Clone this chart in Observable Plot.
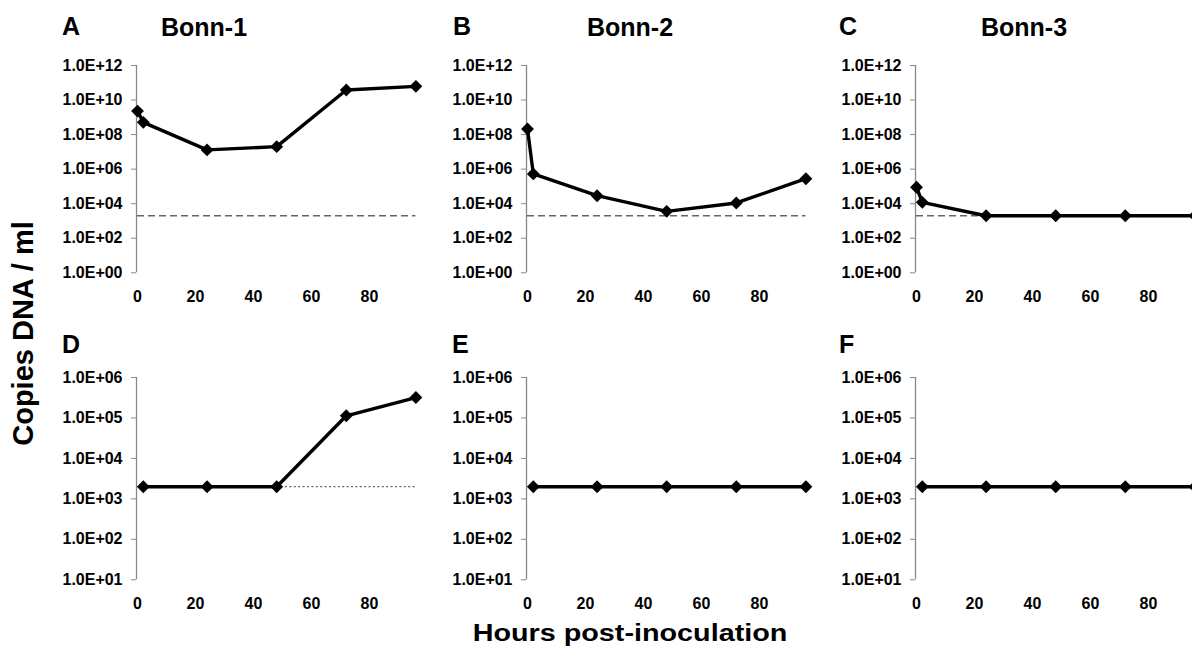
<!DOCTYPE html>
<html><head><meta charset="utf-8">
<script src="https://cdn.jsdelivr.net/npm/d3@7"></script>
<script src="https://cdn.jsdelivr.net/npm/@observablehq/plot@0.6"></script>
<style>
html,body{margin:0;padding:0;background:#fff;overflow:hidden;}
#fig{position:relative;width:1192px;height:654px;overflow:hidden;font-family:"Liberation Sans",Arial,sans-serif;font-weight:bold;color:#000;background:#fff;}
.lbl{position:absolute;line-height:1;white-space:nowrap;}
.panel{position:absolute;}
.panel svg{max-width:none !important;}
</style></head><body><div id="fig"></div>
<script>
// ---- data ----
const hoursTop = [0, 2, 24, 48, 72, 96];
const bonn1 = [2.3e9, 5.1e8, 1.3e7, 2.0e7, 3.8e10, 6.2e10];
const bonn2 = [2.1e8, 5.3e5, 2.9e4, 3.6e3, 1.1e4, 2.8e5];
const bonn3 = [9.0e4, 1.2e4, 2.0e3, 2.0e3, 2.0e3, 2.0e3];
const hoursBottom = [2, 24, 48, 72, 96];
const panelD = [2.0e3, 2.0e3, 2.0e3, 1.13e5, 3.2e5];
const panelE = [2.0e3, 2.0e3, 2.0e3, 2.0e3, 2.0e3];
const panelF = [2.0e3, 2.0e3, 2.0e3, 2.0e3, 2.0e3];
const detectionLimit = 2000;
const panelLetters = ["A", "B", "C", "D", "E", "F"];
const panelTitles = ["Bonn-1", "Bonn-2", "Bonn-3", "", "", ""];
const xTicks = [0, 20, 40, 60, 80];
const topYTicks = [1e0, 1e2, 1e4, 1e6, 1e8, 1e10, 1e12];
const topYTickLabels = ["1.0E+00", "1.0E+02", "1.0E+04", "1.0E+06", "1.0E+08", "1.0E+10", "1.0E+12"];
const bottomYTicks = [1e1, 1e2, 1e3, 1e4, 1e5, 1e6];
const bottomYTickLabels = ["1.0E+01", "1.0E+02", "1.0E+03", "1.0E+04", "1.0E+05", "1.0E+06"];
const yAxisTitle = "Copies DNA / ml";
const xAxisTitle = "Hours post-inoculation";

// ---- layout ----
const fig = document.getElementById("fig");
const colX0 = [137, 527, 916];
const pxPerHour = 2.9;
const xMax = 96;
const ML = 100, MR = 12, MT = 20, MB = 40;
const rows = [
  {y0: 65, plotH: 207.3, domain: [1, 1e12], ticks: topYTicks, labels: topYTickLabels, hours: hoursTop,
   series: [bonn1, bonn2, bonn3], lod: [[0, 96, "7,4", 1.5], [0, 96, "7,4", 1.5], [0, 96, "7,4", 1.5]]},
  {y0: 376.7, plotH: 202.3, domain: [10, 1e6], ticks: bottomYTicks, labels: bottomYTickLabels, hours: hoursBottom,
   series: [panelD, panelE, panelF], lod: [[48, 96, "2,2.4", 1.2], null, null]}
];
const letterX = [[62, 453, 839], [62, 452, 839]];
const letterCY = [26.5, 344];
const titleX = [161, 587, 981];

rows.forEach((row, r) => {
  row.series.forEach((vals, c) => {
    const data = row.hours.map((h, i) => ({h, v: vals[i]}));
    const fmt = d => row.labels[row.ticks.indexOf(d)] ?? "";
    const marks = [
      Plot.ruleX([{x: 0, y1: row.domain[0], y2: row.domain[1]}], {x: "x", y1: "y1", y2: "y2", stroke: "#888", strokeWidth: 1.3, dx: -1}),
      Plot.axisY({ticks: row.ticks, tickFormat: fmt, tickSize: 5, tickPadding: 9, stroke: "#888", fill: "#000", label: null, dx: -1}),
      Plot.axisX({ticks: xTicks, tickSize: 0, tickPadding: 18, fill: "#000", label: null})
    ];
    const lod = row.lod[c];
    if (lod) {
      marks.push(Plot.ruleY([{y: detectionLimit, x1: lod[0], x2: lod[1]}], {y: "y", x1: "x1", x2: "x2", stroke: "#666", strokeWidth: lod[3], strokeDasharray: lod[2]}));
    }
    marks.push(Plot.line(data, {x: "h", y: "v", stroke: "#000", strokeWidth: 3.4}));
    marks.push(Plot.dot(data, {x: "h", y: "v", symbol: "diamond2", r: 5.8, fill: "#000"}));
    const plotW = xMax * pxPerHour;
    const W = ML + plotW + MR;
    const H = MT + row.plotH + MB;
    const chart = Plot.plot({
      width: W,
      height: H,
      marginLeft: ML, marginRight: MR, marginTop: MT, marginBottom: MB,
      x: {domain: [0, xMax], label: null},
      y: {type: "log", domain: row.domain, label: null},
      style: {fontFamily: '"Liberation Sans", Arial, sans-serif', fontSize: "16px", fontWeight: "bold", background: "transparent", overflow: "visible", color: "#000", maxWidth: "none"},
      marks
    });
    const wrap = document.createElement("div");
    wrap.className = "panel";
    wrap.style.left = (colX0[c] - ML) + "px";
    wrap.style.top = (row.y0 - MT) + "px";
    wrap.style.width = W + "px";
    wrap.style.height = H + "px";
    wrap.appendChild(chart);
    fig.appendChild(wrap);

    const idx = r * 3 + c;
    const L = document.createElement("div");
    L.className = "lbl";
    L.style.fontSize = "25px";
    L.style.left = letterX[r][c] + "px";
    L.style.top = (letterCY[r] - 0.49 * 25) + "px";
    L.textContent = panelLetters[idx];
    fig.appendChild(L);
    if (panelTitles[idx]) {
      const T = document.createElement("div");
      T.className = "lbl";
      T.style.fontSize = "25px";
      T.style.left = titleX[c] + "px";
      T.style.top = (27 - 0.49 * 25) + "px";
      T.textContent = panelTitles[idx];
      fig.appendChild(T);
    }
  });
});

// axis titles
const xt = document.createElement("div");
xt.className = "lbl";
xt.style.fontSize = "23px";
xt.style.left = "0px";
xt.style.width = "1260px";
xt.style.textAlign = "center";
xt.style.top = (633 - 0.49 * 23) + "px";
xt.style.transform = "scaleX(1.25)";
xt.style.transformOrigin = "630px 50%";
xt.textContent = xAxisTitle;
fig.appendChild(xt);

const yt = document.createElement("div");
yt.className = "lbl";
yt.style.fontSize = "29px";
yt.style.width = "400px";
yt.style.height = "29px";
yt.style.textAlign = "center";
yt.style.left = (22.5 - 200) + "px";
yt.style.top = (333 - 14.5) + "px";
yt.style.transform = "rotate(-90deg)";
yt.style.transformOrigin = "50% 50%";
yt.textContent = yAxisTitle;
fig.appendChild(yt);
</script></body></html>
